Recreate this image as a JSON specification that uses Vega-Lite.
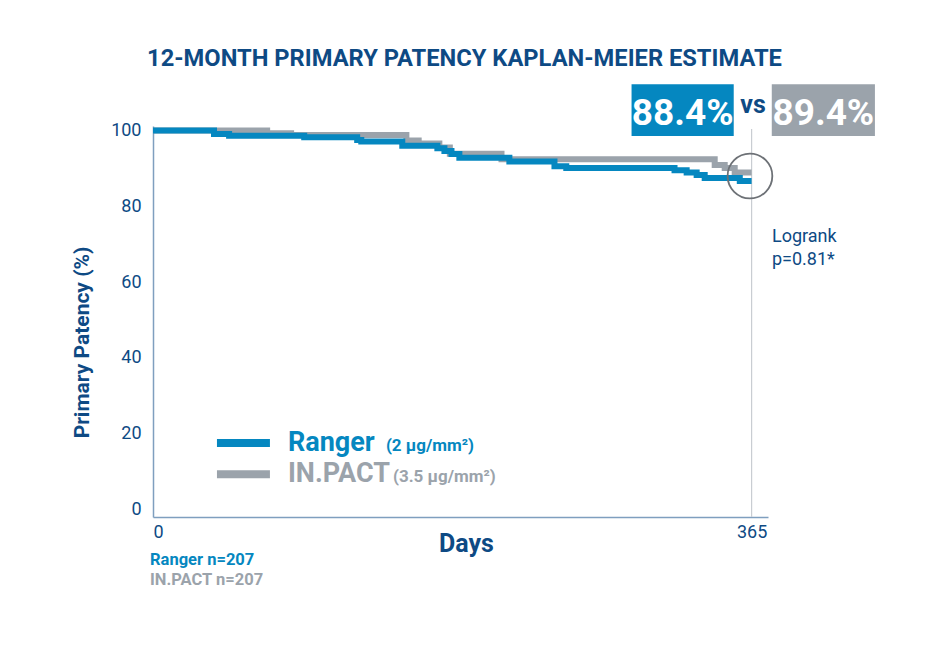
{
  "$schema": "https://vega.github.io/schema/vega-lite/v6.json",
  "autosize": "none",
  "width": 615,
  "height": 391,
  "padding": {"left": 153, "top": 126, "right": 182, "bottom": 133},
  "background": "white",
  "config": {"view": {"stroke": null}, "font": "Roboto"},
  "title": {
    "text": "12-MONTH PRIMARY PATENCY KAPLAN-MEIER ESTIMATE",
    "font": "Roboto", "fontSize": 23.7, "fontWeight": "bold", "color": "#0e4a84",
    "anchor": "middle", "frame": "group", "offset": 14, "dx": 4
  },
  "datasets": {
    "km": [
      {"series": "IN.PACT", "day": 0, "pct": 100},
      {"series": "IN.PACT", "day": 69.6, "pct": 99.3},
      {"series": "IN.PACT", "day": 84.2, "pct": 98.8},
      {"series": "IN.PACT", "day": 154.5, "pct": 97.4},
      {"series": "IN.PACT", "day": 162, "pct": 96.6},
      {"series": "IN.PACT", "day": 174.6, "pct": 95.5},
      {"series": "IN.PACT", "day": 181, "pct": 93.9},
      {"series": "IN.PACT", "day": 212.5, "pct": 92.4},
      {"series": "IN.PACT", "day": 342.5, "pct": 90.9},
      {"series": "IN.PACT", "day": 348.6, "pct": 90.1},
      {"series": "IN.PACT", "day": 354.7, "pct": 88.9},
      {"series": "IN.PACT", "day": 365, "pct": 88.9},
      {"series": "Ranger", "day": 0, "pct": 100},
      {"series": "Ranger", "day": 37.2, "pct": 99.1},
      {"series": "Ranger", "day": 46.4, "pct": 98.6},
      {"series": "Ranger", "day": 92.2, "pct": 98.2},
      {"series": "Ranger", "day": 124.5, "pct": 97.5},
      {"series": "Ranger", "day": 127, "pct": 97.1},
      {"series": "Ranger", "day": 152, "pct": 96.0},
      {"series": "Ranger", "day": 173.4, "pct": 95.3},
      {"series": "Ranger", "day": 177.7, "pct": 94.6},
      {"series": "Ranger", "day": 182, "pct": 93.8},
      {"series": "Ranger", "day": 186.8, "pct": 92.8},
      {"series": "Ranger", "day": 217.3, "pct": 91.8},
      {"series": "Ranger", "day": 244.8, "pct": 90.6},
      {"series": "Ranger", "day": 252, "pct": 90.1},
      {"series": "Ranger", "day": 318, "pct": 89.5},
      {"series": "Ranger", "day": 325.4, "pct": 88.9},
      {"series": "Ranger", "day": 331.5, "pct": 88.3},
      {"series": "Ranger", "day": 336.4, "pct": 87.5},
      {"series": "Ranger", "day": 357.8, "pct": 86.7},
      {"series": "Ranger", "day": 365, "pct": 86.7}
    ],
    "ref": [{"day": 365, "top": 100.4, "bottom": -2}],
    "circle": [{"day": 364, "pct": 88}],
    "boxes": [
      {"series": "Ranger", "x1": 291.8, "x2": 354.1, "y1": 112.2, "y2": 98.55, "xc": 323, "yb": 101.45, "label": "88.4%"},
      {"series": "IN.PACT", "x1": 377.3, "x2": 440.2, "y1": 112.2, "y2": 98.55, "xc": 408.75, "yb": 101.45, "label": "89.4%"}
    ],
    "legend": [
      {"series": "Ranger", "d1": 39, "d2": 71.3, "pct": 17.5},
      {"series": "IN.PACT", "d1": 39, "d2": 71.3, "pct": 9.3}
    ],
    "notes": [
      {"kind": "legmain", "series": "Ranger", "text": "Ranger", "day": 82.3, "pct": 15.4},
      {"kind": "legsub", "series": "Ranger", "text": "(2 µg/mm²)", "day": 142, "pct": 15.4},
      {"kind": "legmain", "series": "IN.PACT", "text": "IN.PACT", "day": 82.3, "pct": 7.2},
      {"kind": "legsub", "series": "IN.PACT", "text": "(3.5 µg/mm²)", "day": 146.3, "pct": 7.2},
      {"kind": "n", "series": "Ranger", "text": "Ranger n=207", "day": -1.8, "pct": -14.7},
      {"kind": "n", "series": "IN.PACT", "text": "IN.PACT n=207", "day": -1.8, "pct": -20.0},
      {"kind": "logrank", "series": "none", "text": "Logrank", "day": 377.4, "pct": 70.6},
      {"kind": "logrank", "series": "none", "text": "p=0.81*", "day": 377.4, "pct": 64.6},
      {"kind": "vs", "series": "none", "text": "vs", "day": 365.9, "pct": 104.6}
    ]
  },
  "layer": [
    {
      "data": {"name": "ref"},
      "mark": {"type": "rule", "color": "#c9cdd2", "strokeWidth": 1.2},
      "encoding": {
        "x": {"field": "day", "type": "quantitative",
              "scale": {"domain": [0, 375], "nice": false, "zero": false},
              "axis": {"values": [0, 365], "title": "Days", "ticks": false, "grid": false,
                       "domainColor": "#7f9fbf", "domainWidth": 1.5,
                       "labelColor": "#0e4a84", "labelFontSize": 18, "labelPadding": 6, "labelDx": 3,
                       "labelFont": "Roboto",
                       "titleColor": "#0e4a84", "titleFontSize": 25, "titleFontWeight": "bold", "titleFont": "Roboto",
                       "titleX": 313, "titleY": 34, "titleBaseline": "alphabetic", "titleAlign": "center", "titleAnchor": null}},
        "y": {"field": "top", "type": "quantitative",
              "scale": {"domain": [-2, 101.2], "nice": false, "zero": false},
              "axis": {"values": [0, 20, 40, 60, 80, 100], "title": "Primary Patency (%)", "ticks": false, "grid": false,
                       "domainColor": "#7f9fbf", "domainWidth": 1.5,
                       "labelColor": "#0e4a84", "labelFontSize": 18, "labelPadding": 12, "labelFont": "Roboto",
                       "titleColor": "#0e4a84", "titleFontSize": 21, "titleFontWeight": "bold", "titleFont": "Roboto",
                       "titleX": -65, "titleY": 216, "titleAngle": -90, "titleBaseline": "alphabetic", "titleAlign": "center", "titleAnchor": null}},
        "y2": {"field": "bottom"}
      }
    },
    {
      "data": {"name": "km"},
      "transform": [{"filter": "datum.series === 'IN.PACT'"}],
      "mark": {"type": "line", "interpolate": "step-after", "color": "#9ba3ab", "strokeWidth": 6},
      "encoding": {
        "x": {"field": "day", "type": "quantitative"},
        "y": {"field": "pct", "type": "quantitative"}
      }
    },
    {
      "data": {"name": "km"},
      "transform": [{"filter": "datum.series === 'Ranger'"}],
      "mark": {"type": "line", "interpolate": "step-after", "color": "#0587c0", "strokeWidth": 6},
      "encoding": {
        "x": {"field": "day", "type": "quantitative"},
        "y": {"field": "pct", "type": "quantitative"}
      }
    },
    {
      "data": {"name": "circle"},
      "mark": {"type": "point", "shape": "circle", "filled": false, "size": 2000, "stroke": "#6d7176", "strokeWidth": 1.8, "opacity": 1},
      "encoding": {
        "x": {"field": "day", "type": "quantitative"},
        "y": {"field": "pct", "type": "quantitative"}
      }
    },
    {
      "data": {"name": "boxes"},
      "mark": {"type": "rect"},
      "encoding": {
        "x": {"field": "x1", "type": "quantitative"},
        "x2": {"field": "x2"},
        "y": {"field": "y1", "type": "quantitative"},
        "y2": {"field": "y2"},
        "color": {"field": "series", "type": "nominal", "scale": {"domain": ["Ranger", "IN.PACT"], "range": ["#0587c0", "#9ba3ab"]}, "legend": null}
      }
    },
    {
      "data": {"name": "boxes"},
      "mark": {"type": "text", "font": "Roboto", "fontSize": 37, "fontWeight": "bold", "color": "white", "align": "center", "baseline": "alphabetic"},
      "encoding": {
        "x": {"field": "xc", "type": "quantitative"},
        "y": {"field": "yb", "type": "quantitative"},
        "text": {"field": "label"}
      }
    },
    {
      "data": {"name": "legend"},
      "mark": {"type": "rule", "strokeWidth": 8},
      "encoding": {
        "x": {"field": "d1", "type": "quantitative"},
        "x2": {"field": "d2"},
        "y": {"field": "pct", "type": "quantitative"},
        "color": {"field": "series", "type": "nominal", "scale": {"domain": ["Ranger", "IN.PACT"], "range": ["#0587c0", "#9ba3ab"]}, "legend": null}
      }
    },
    {
      "data": {"name": "notes"},
      "transform": [{"filter": "datum.kind === 'legmain'"}],
      "mark": {"type": "text", "font": "Roboto", "fontSize": 27, "fontWeight": "bold", "align": "left", "baseline": "alphabetic"},
      "encoding": {
        "x": {"field": "day", "type": "quantitative"},
        "y": {"field": "pct", "type": "quantitative"},
        "text": {"field": "text"},
        "color": {"field": "series", "type": "nominal", "scale": {"domain": ["Ranger", "IN.PACT"], "range": ["#0587c0", "#9ba3ab"]}, "legend": null}
      }
    },
    {
      "data": {"name": "notes"},
      "transform": [{"filter": "datum.kind === 'legsub'"}],
      "mark": {"type": "text", "font": "Roboto", "fontSize": 17, "fontWeight": "bold", "align": "left", "baseline": "alphabetic"},
      "encoding": {
        "x": {"field": "day", "type": "quantitative"},
        "y": {"field": "pct", "type": "quantitative"},
        "text": {"field": "text"},
        "color": {"field": "series", "type": "nominal", "scale": {"domain": ["Ranger", "IN.PACT"], "range": ["#0587c0", "#9ba3ab"]}, "legend": null}
      }
    },
    {
      "data": {"name": "notes"},
      "transform": [{"filter": "datum.kind === 'n'"}],
      "mark": {"type": "text", "font": "Roboto", "fontSize": 16.5, "fontWeight": "bold", "align": "left", "baseline": "alphabetic"},
      "encoding": {
        "x": {"field": "day", "type": "quantitative"},
        "y": {"field": "pct", "type": "quantitative"},
        "text": {"field": "text"},
        "color": {"field": "series", "type": "nominal", "scale": {"domain": ["Ranger", "IN.PACT"], "range": ["#0587c0", "#9ba3ab"]}, "legend": null}
      }
    },
    {
      "data": {"name": "notes"},
      "transform": [{"filter": "datum.kind === 'logrank'"}],
      "mark": {"type": "text", "font": "Roboto", "fontSize": 18, "color": "#0e4a84", "align": "left", "baseline": "alphabetic"},
      "encoding": {
        "x": {"field": "day", "type": "quantitative"},
        "y": {"field": "pct", "type": "quantitative"},
        "text": {"field": "text"}
      }
    },
    {
      "data": {"name": "notes"},
      "transform": [{"filter": "datum.kind === 'vs'"}],
      "mark": {"type": "text", "font": "Roboto", "fontSize": 25, "fontWeight": "bold", "color": "#0e4a84", "align": "center", "baseline": "alphabetic"},
      "encoding": {
        "x": {"field": "day", "type": "quantitative"},
        "y": {"field": "pct", "type": "quantitative"},
        "text": {"field": "text"}
      }
    }
  ]
}
